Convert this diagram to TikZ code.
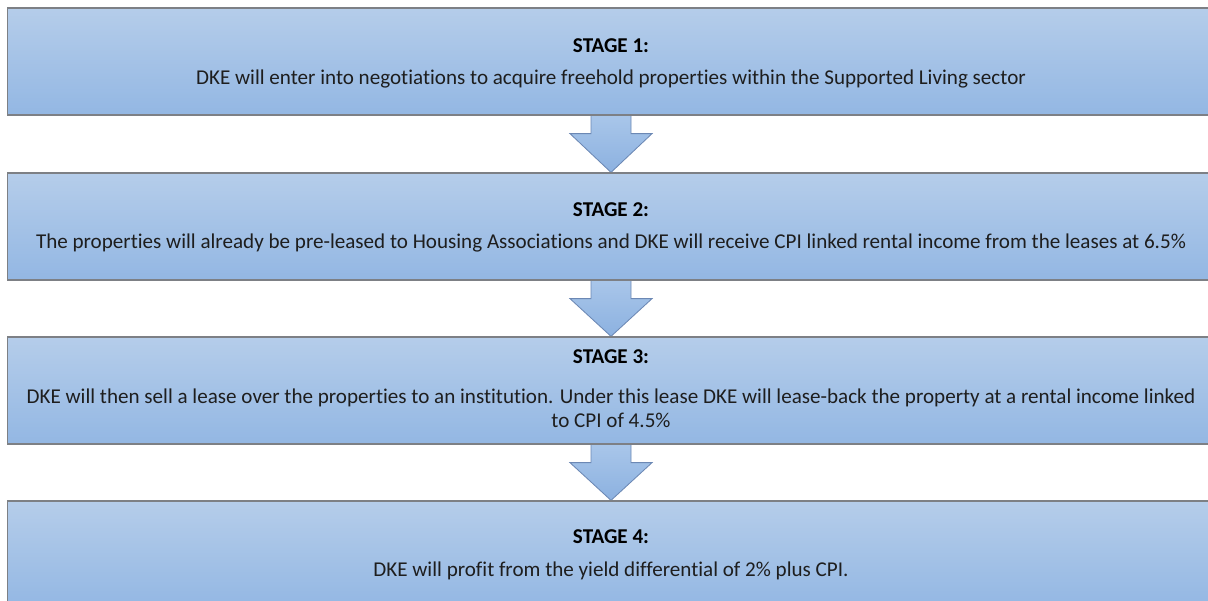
\documentclass[tikz,border=0pt]{standalone}
\usepackage{fontspec}
\setmainfont{Carlito}[Ligatures=NoCommon]
\usetikzlibrary{calc,backgrounds}

\definecolor{boxtop}{RGB}{181,205,234}
\definecolor{boxbottom}{RGB}{147,183,227}
\definecolor{boxline}{RGB}{125,128,133}
\definecolor{arrowtop}{RGB}{170,199,234}
\definecolor{arrowbottom}{RGB}{140,177,224}
\definecolor{arrowline}{RGB}{108,136,180}
\definecolor{bodytext}{RGB}{30,30,30}

\tikzset{
  stagebox/.style={draw=boxline, line width=0.9pt, top color=boxtop, bottom color=boxbottom,
    minimum width=30.15cm, minimum height=2.675cm, inner sep=0pt},
  stagetitle/.style={font=\fontsize{15}{17}\selectfont\bfseries, text=black},
  stagetext/.style={font=\fontsize{15}{17}\selectfont, align=center, text=bodytext},
  downarrow/.style={draw=arrowline, line width=0.6pt, top color=arrowtop, bottom color=arrowbottom}
}

\begin{document}
\begin{tikzpicture}[x=0.025cm,y=-0.025cm]
\useasboundingbox (0,0) rectangle (1208,600);

\node[stagebox] (stage1) at (611,61.5) {};
\node[stagebox] (stage2) at (611,226.5) {};
\node[stagebox] (stage3) at (611,390.5) {};
\node[stagebox] (stage4) at (611,554.5) {};

\node[stagetitle] (title1) at (611,46) {STAGE 1:};
\node[stagetext] (text1) at (611,79) {DKE will enter into negotiations to acquire freehold properties within the Supported Living sector};
\node[stagetitle] (title2) at (611,210) {STAGE 2:};
\node[stagetext] (text2) at (611,243) {The properties will already be pre-leased to Housing Associations and DKE will receive CPI linked rental income from the leases at 6.5\%};
\node[stagetitle] (title3) at (611,357) {STAGE 3:};
\node[stagetext] (text3) at (611,408) {DKE will then sell a lease over the properties to an institution. Under this lease DKE will lease-back the property at a rental income linked\\ to CPI of 4.5\%};
\node[stagetitle] (title4) at (611,537) {STAGE 4:};
\node[stagetext] (text4) at (611,571) {DKE will profit from the yield differential of 2\% plus CPI.};

% block arrows between the stages
\begin{pgfonlayer}{background}
\draw[downarrow] ($(stage1.south)+(-20,-3)$) -- ++(0,21) -- ++(-21,0) -- (stage2.north)
  -- ($(stage1.south)+(41,18)$) -- ++(-21,0) -- ++(0,-21) -- cycle;
\draw[downarrow] ($(stage2.south)+(-20,-3)$) -- ++(0,21) -- ++(-21,0) -- (stage3.north)
  -- ($(stage2.south)+(41,18)$) -- ++(-21,0) -- ++(0,-21) -- cycle;
\draw[downarrow] ($(stage3.south)+(-20,-3)$) -- ++(0,21) -- ++(-21,0) -- (stage4.north)
  -- ($(stage3.south)+(41,18)$) -- ++(-21,0) -- ++(0,-21) -- cycle;
\end{pgfonlayer}
\end{tikzpicture}
\end{document}
